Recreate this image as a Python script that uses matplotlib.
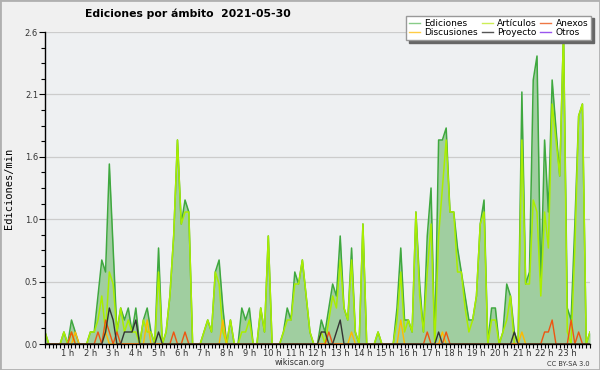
import matplotlib
matplotlib.use("Agg")
import matplotlib.pyplot as plt
from matplotlib.lines import Line2D
from matplotlib.patches import Rectangle
from matplotlib.ticker import MultipleLocator

# edits per minute, one value every 10 minutes (00:00 .. 24:00)
ediciones = [
    0.1, 0, 0, 0, 0, 0.1, 0, 0.2, 0.1, 0, 0, 0,
    0.1, 0.1, 0.4, 0.7, 0.6, 1.5, 0.8, 0.1, 0.3, 0.2, 0.3, 0.1,
    0.3, 0, 0.2, 0.3, 0.1, 0, 0.8, 0, 0.1, 0.4, 0.9, 1.7,
    1.0, 1.2, 1.1, 0, 0, 0, 0.1, 0.2, 0.1, 0.6, 0.7, 0.3,
    0, 0.2, 0, 0, 0.3, 0.2, 0.3, 0, 0, 0.3, 0.1, 0.9,
    0, 0, 0, 0.1, 0.3, 0.2, 0.6, 0.5, 0.7, 0.4, 0.1, 0,
    0, 0.2, 0.1, 0.3, 0.5, 0.4, 0.9, 0.3, 0.2, 0.8, 0.1, 0,
    1.0, 0, 0, 0, 0.1, 0, 0, 0, 0, 0.3, 0.8, 0.2,
    0.2, 0.1, 1.1, 0.5, 0.1, 0.9, 1.3, 0, 1.7, 1.7, 1.8, 1.1,
    1.1, 0.8, 0.6, 0.4, 0.2, 0.2, 0.4, 1.0, 1.2, 0, 0.3, 0.3,
    0, 0.1, 0.5, 0.4, 0.1, 0, 2.1, 0.5, 0.6, 2.2, 2.4, 0.5,
    1.7, 1.1, 2.2, 1.8, 1.4, 2.6, 0.3, 0.2, 1.0, 1.9, 2.0, 0,
    0.1,
]
articulos = [
    0.1, 0, 0, 0, 0, 0.1, 0, 0.1, 0, 0, 0, 0,
    0.1, 0.1, 0.2, 0.4, 0.1, 0.6, 0.5, 0.1, 0.3, 0.1, 0.2, 0.1,
    0.1, 0, 0.2, 0.1, 0.1, 0, 0.6, 0, 0.1, 0.4, 0.9, 1.7,
    1.0, 1.1, 1.1, 0, 0, 0, 0.1, 0.2, 0.1, 0.6, 0.5, 0.1,
    0, 0.2, 0, 0, 0.1, 0.1, 0.2, 0, 0, 0.3, 0.1, 0.9,
    0, 0, 0, 0.1, 0.2, 0.2, 0.5, 0.5, 0.7, 0.4, 0.1, 0,
    0, 0.1, 0, 0.2, 0.4, 0.3, 0.7, 0.3, 0.2, 0.7, 0.1, 0,
    1.0, 0, 0, 0, 0.1, 0, 0, 0, 0, 0.2, 0.6, 0.1,
    0.2, 0.1, 1.1, 0.4, 0.1, 0.6, 1.0, 0, 0.9, 1.3, 1.7, 1.1,
    1.1, 0.6, 0.6, 0.3, 0.1, 0.2, 0.4, 1.0, 1.1, 0, 0.2, 0.2,
    0, 0.1, 0.2, 0.4, 0, 0, 1.7, 0.5, 0.5, 1.2, 1.1, 0.4,
    1.1, 0.8, 2.0, 1.7, 1.4, 2.6, 0.1, 0, 0.8, 1.9, 2.0, 0,
    0.1,
]
anexos = [0.0] * 145
for i, v in [(7, 0.1), (14, 0.1), (16, 0.2), (17, 0.1), (19, 0.1), (34, 0.1),
             (37, 0.1), (75, 0.1), (101, 0.1), (106, 0.1), (132, 0.1),
             (133, 0.1), (134, 0.2), (139, 0.2), (141, 0.1)]:
    anexos[i] = v
discusiones = [0.0] * 145
for i, v in [(8, 0.1), (16, 0.1), (27, 0.2), (47, 0.2), (81, 0.1), (94, 0.2),
             (105, 0.1), (126, 0.1)]:
    discusiones[i] = v
proyecto = [0.0] * 145
for i, v in [(16, 0.1), (17, 0.3), (18, 0.2), (21, 0.1), (22, 0.1), (23, 0.1),
             (24, 0.2), (30, 0.1), (73, 0.1), (74, 0.1), (77, 0.1), (78, 0.2),
             (104, 0.1), (124, 0.1)]:
    proyecto[i] = v
otros = [0.0] * 145

hour_labels = [f"{h} h" for h in range(1, 24)]
ytick_vals = [0, 0.52, 1.04, 1.56, 2.08, 2.6]
ytick_labels = ["0.0", "0.5", "1.0", "1.6", "2.1", "2.6"]

steps = list(range(len(ediciones)))

fig = plt.figure(figsize=(6, 3.7), dpi=100, facecolor="#f0f0f0")
ax = fig.add_axes([45 / 600, 26 / 370, 545 / 600, 312 / 370])
ax.set_facecolor("#eef0f2")

ax.fill_between(steps, ediciones, 0, color="#a0cea0", lw=0, zorder=2)
ax.plot(steps, otros, color="#8844ee", lw=1, zorder=2.5)
ax.plot(steps, ediciones, color="#3fa83f", lw=1.1, zorder=3)
ax.plot(steps, articulos, color="#aaee00", lw=1.1, zorder=4)
ax.plot(steps, discusiones, color="#ffbb00", lw=1, zorder=5)
ax.plot(steps, anexos, color="#ee5511", lw=1, zorder=6)
ax.plot(steps, proyecto, color="#333333", lw=1, zorder=7)

ax.set_xlim(0, 144)
ax.set_ylim(0, 2.6)
ax.set_xticks([6 * h for h in range(1, 24)])
ax.set_xticklabels(hour_labels)
ax.xaxis.set_minor_locator(MultipleLocator(1))
ax.set_yticks(ytick_vals)
ax.set_yticklabels(ytick_labels)
ax.yaxis.set_minor_locator(MultipleLocator(0.13))
ax.tick_params(axis="both", which="both", direction="out", length=3,
               width=0.8, color="black", labelsize=6, labelcolor="#333333", pad=1)
ax.tick_params(axis="x", which="major", pad=0.3)
ax.tick_params(axis="y", which="major", length=4)
ax.grid(axis="y", which="major", color="#cccccc", lw=0.9, zorder=1)
ax.set_axisbelow(True)
for s in ("top", "right"):
    ax.spines[s].set_visible(False)
for s in ("left", "bottom"):
    ax.spines[s].set_color("black")
    ax.spines[s].set_linewidth(1)
    ax.spines[s].set_zorder(8)

ax.set_ylabel("Ediciones/min", family="DejaVu Sans Mono", fontsize=7.5, labelpad=8)

fig.text(188 / 600, 1 - 14 / 370, "Ediciones por ámbito  2021-05-30",
         ha="center", va="center", fontsize=7.8, fontweight="bold")
fig.text(300 / 600, 1 - 362.5 / 370, "wikiscan.org", ha="center", va="center",
         fontsize=5.8, color="#333333")
fig.text(590 / 600, 1 - 363.5 / 370, "CC BY-SA 3.0", ha="right", va="center",
         fontsize=4.8, color="#333333")

handles = [
    Line2D([], [], color="#88cc88", lw=1),
    Line2D([], [], color="#ffcc44", lw=1),
    Line2D([], [], color="#ccee55", lw=1),
    Line2D([], [], color="#555555", lw=1),
    Line2D([], [], color="#ee7744", lw=1),
    Line2D([], [], color="#9955ee", lw=1),
]
names = ["Ediciones", "Discusiones", "Artículos", "Proyecto", "Anexos", "Otros"]
fig.legend(handles, names, ncol=3, loc="upper right",
           bbox_to_anchor=(596 / 600, 1 - 11 / 370), fontsize=6.5,
           handlelength=1.2, handletextpad=0.5, columnspacing=0.4,
           labelspacing=0.05, borderpad=0.35, fancybox=False, framealpha=1,
           edgecolor="#999999",
           shadow={"ox": 2, "oy": -2, "color": "#666666", "alpha": 1})

fig.add_artist(Rectangle((0, 0), 1, 1, transform=fig.transFigure, fill=False,
                         edgecolor="#b0b0b0", lw=2))

fig.savefig("out.png", dpi=100, facecolor=fig.get_facecolor())
